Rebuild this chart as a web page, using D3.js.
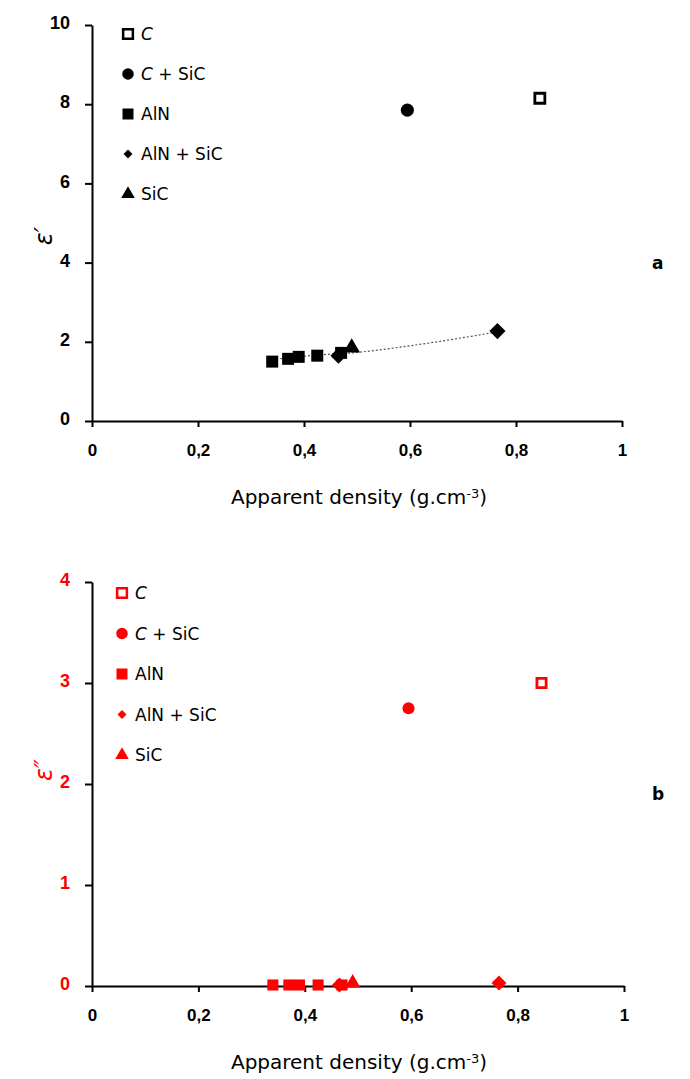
<!DOCTYPE html>
<html>
<head>
<meta charset="utf-8">
<script src="https://cdn.jsdelivr.net/npm/d3@7"></script>
<style>
	body { margin: 0; background: #fff; }
	svg { display: block; font-family: "DejaVu Sans", sans-serif; }
	.domain, .tick line { stroke: #000; stroke-width: 2; }
</style>
</head>
<body>
<div id="chartDiv"></div>
<script>
// --- data ---
const seriesNames = ['C', 'C + SiC', 'AlN', 'AlN + SiC', 'SiC'];

const densC = [0.845];
const densCSiC = [0.595];
const densAlN = [0.34, 0.37, 0.39, 0.425, 0.47];
const densAlNSiC = [0.465, 0.765];
const densSiC = [0.49];

// epsilon' (a)
const eps1C = [8.15];
const eps1CSiC = [7.85];
const eps1AlN = [1.5, 1.57, 1.62, 1.65, 1.72];
const eps1AlNSiC = [1.65, 2.27];
const eps1SiC = [1.85];

// epsilon'' (b)
const eps2C = [3.0];
const eps2CSiC = [2.75];
const eps2AlN = [0.01, 0.01, 0.01, 0.01, 0.01];
const eps2AlNSiC = [0.01, 0.03];
const eps2SiC = [0.03];

// dotted trend line in (a)
const trendX = [0.34, 0.43, 0.49, 0.6, 0.765];
const trendY = [1.55, 1.67, 1.72, 1.9, 2.25];

const xTicks = [0, 0.2, 0.4, 0.6, 0.8, 1];
const xTickLabels = ['0', '0,2', '0,4', '0,6', '0,8', '1'];
const yTicksA = [0, 2, 4, 6, 8, 10];
const yTicksB = [0, 1, 2, 3, 4];

const W = 690, H = 1079;

const svg = d3.select('#chartDiv').append('svg')
	.attr('width', W)
	.attr('height', H);

function makeSeries(xs, ys){
	return xs.map((d, i) => ({x: d, y: ys[i]}));
}

// diamond = square turned 45 degrees
const symbolTypes = {
	'C': d3.symbolSquare,
	'C + SiC': d3.symbolCircle,
	'AlN': d3.symbolSquare,
	'AlN + SiC': d3.symbolSquare,
	'SiC': d3.symbolTriangle
};
const symbolRot = {'AlN + SiC': 45};
const symbolSizes = {'C': 100, 'C + SiC': 135, 'AlN': 144, 'AlN + SiC': 130, 'SiC': 120};
const legendSizes = {'C': 95, 'C + SiC': 105, 'AlN': 121, 'AlN + SiC': 40, 'SiC': 80};

function drawMarks(g, name, data, x, y, color, sizeScale){
	const open = name === 'C';
	const rot = symbolRot[name] || 0;
	g.selectAll(null)
		.data(data)
		.enter()
		.append('path')
		.attr('d', d3.symbol().type(symbolTypes[name]).size(symbolSizes[name] * sizeScale))
		.attr('transform', d => `translate(${x(d.x)},${y(d.y)}) rotate(${rot})`)
		.attr('fill', open ? '#fff' : color)
		.attr('stroke', open ? color : 'none')
		.attr('stroke-width', open ? 2.8 : 0);
}

function buildChart(obj){
	const g = svg.append('g');
	const x = d3.scaleLinear().domain([0, 1]).range(obj.xRange);
	const y = d3.scaleLinear().domain(obj.yDomain).range(obj.yRange);

	// axes
	const xAxis = g.append('g')
		.attr('transform', `translate(0,${obj.yRange[0]})`)
		.call(d3.axisBottom(x).tickValues(xTicks)
			.tickFormat((d, i) => xTickLabels[i])
			.tickSize(6).tickSizeOuter(0).tickPadding(17));
	xAxis.selectAll('text')
		.attr('fill', '#000')
		.style('font-size', '17px')
		.style('font-weight', 'bold');

	const yAxis = g.append('g')
		.attr('transform', `translate(${obj.xRange[0]},0)`)
		.call(d3.axisLeft(y).tickValues(obj.yTicks)
			.tickFormat(d3.format('d'))
			.tickSize(7).tickSizeOuter(0).tickPadding(15));
	yAxis.selectAll('text')
		.attr('fill', obj.color)
		.attr('dy', '0.2em')
		.style('font-size', '18px')
		.style('font-weight', 'bold');

	// x axis title
	const xt = g.append('text')
		.attr('x', 359)
		.attr('y', obj.yRange[0] + 83)
		.attr('text-anchor', 'middle')
		.style('font-size', '20px');
	xt.append('tspan').text('Apparent density (g.cm');
	xt.append('tspan').attr('dy', '-0.5em').style('font-size', '13px').text('-3');
	xt.append('tspan').attr('dy', '0.32em').text(')');

	// y axis title
	g.append('text')
		.attr('transform', `translate(52,${obj.yTitleY}) rotate(-90)`)
		.attr('text-anchor', 'middle')
		.attr('fill', obj.color)
		.style('font-size', '24px')
		.style('font-style', 'italic')
		.text(obj.yTitle);

	// panel letter
	g.append('text')
		.attr('x', 652)
		.attr('y', obj.letterY)
		.style('font-size', '17px')
		.style('font-weight', 'bold')
		.text(obj.letter);

	// trend line
	if (obj.trend){
		g.append('path')
			.datum(makeSeries(trendX, trendY))
			.attr('d', d3.line().x(d => x(d.x)).y(d => y(d.y)).curve(d3.curveMonotoneX))
			.attr('fill', 'none')
			.attr('stroke', '#555')
			.attr('stroke-width', 1.2)
			.attr('stroke-dasharray', '2,2');
	}

	// marks
	obj.series.forEach((s, i) => drawMarks(g, seriesNames[i], s, x, y, obj.color, obj.markScale));

	// legend
	const leg = g.append('g');
	seriesNames.forEach((name, i) => {
		const ly = obj.legendY + i * obj.legendStep;
		const open = name === 'C';
		const rot = symbolRot[name] || 0;
		leg.append('path')
			.attr('d', d3.symbol().type(symbolTypes[name]).size(legendSizes[name]))
			.attr('transform', `translate(${obj.legendX},${ly}) rotate(${rot})`)
			.attr('fill', open ? '#fff' : obj.color)
			.attr('stroke', open ? obj.color : 'none')
			.attr('stroke-width', open ? 2.5 : 0);
		const t = leg.append('text')
			.attr('x', obj.legendX + 13)
			.attr('y', ly + 6)
			.style('font-size', '17px');
		if (name.startsWith('C')){
			t.append('tspan').style('font-style', 'italic').text('C');
			t.append('tspan').text(name.slice(1));
		} else {
			t.text(name);
		}
	});
}

buildChart({
	xRange: [92, 622],
	yDomain: [0, 10],
	yRange: [421, 25],
	yTicks: yTicksA,
	color: '#000',
	yTitle: 'ε\u2032',
	yTitleY: 236,
	letter: 'a',
	letterY: 269,
	trend: true,
	markScale: 1,
	legendX: 128,
	legendY: 34,
	legendStep: 40,
	series: [
		makeSeries(densC, eps1C),
		makeSeries(densCSiC, eps1CSiC),
		makeSeries(densAlN, eps1AlN),
		makeSeries(densAlNSiC, eps1AlNSiC),
		makeSeries(densSiC, eps1SiC)
	]
});

buildChart({
	xRange: [92, 624],
	yDomain: [0, 4],
	yRange: [986, 582],
	yTicks: yTicksB,
	color: '#ff0000',
	yTitle: 'ε\u2033',
	yTitleY: 770,
	letter: 'b',
	letterY: 800,
	trend: false,
	markScale: 0.85,
	legendX: 122,
	legendY: 593,
	legendStep: 40.5,
	series: [
		makeSeries(densC, eps2C),
		makeSeries(densCSiC, eps2CSiC),
		makeSeries(densAlN, eps2AlN),
		makeSeries(densAlNSiC, eps2AlNSiC),
		makeSeries(densSiC, eps2SiC)
	]
});
</script>
</body>
</html>
